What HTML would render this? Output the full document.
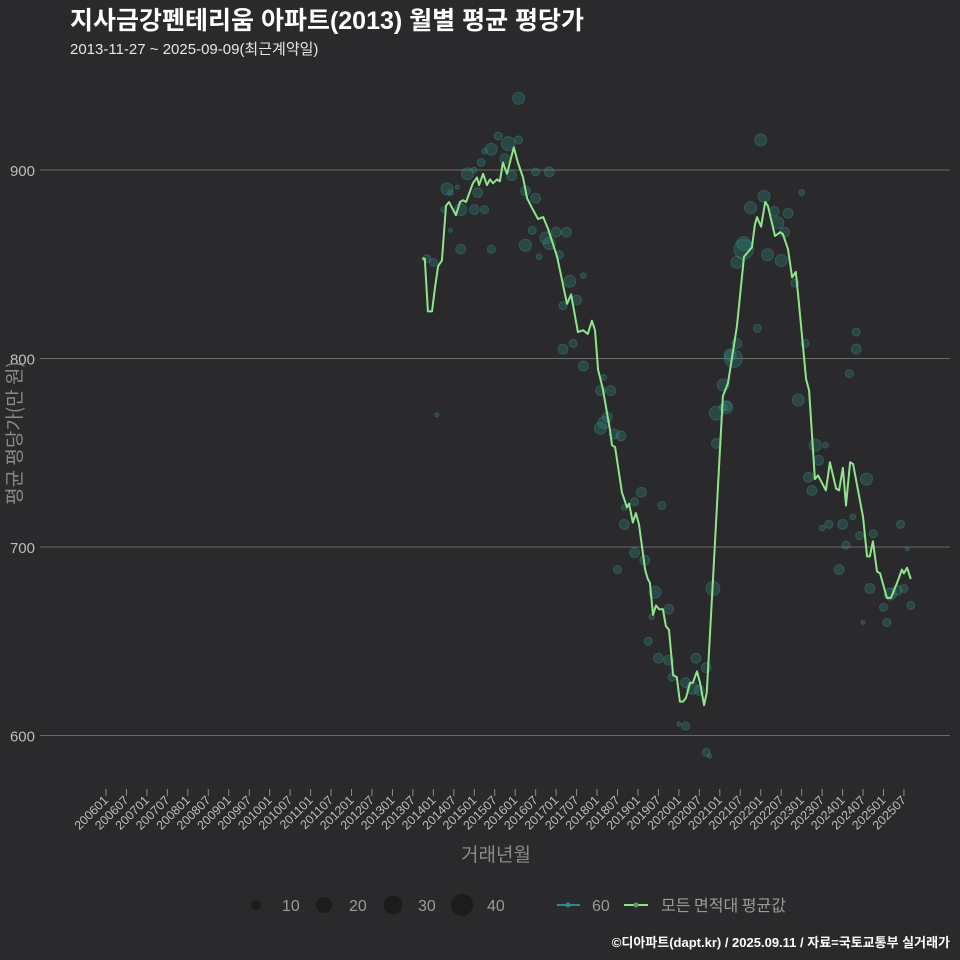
<!DOCTYPE html>
<html><head><meta charset="utf-8">
<style>
html,body{margin:0;padding:0;background:#2a2a2c;}
svg{display:block;font-family:"Liberation Sans","Noto Sans CJK KR",sans-serif;}
.kr{font-family:"Noto Sans CJK KR","NanumGothic",sans-serif;}
</style></head>
<body>
<svg id="chart" width="960" height="960" viewBox="0 0 960 960" xmlns="http://www.w3.org/2000/svg">
<rect width="960" height="960" fill="#2a2a2c"/>
<text x="70" y="29" fill="#ffffff" font-size="25" font-weight="bold">지사금강펜테리움 아파트(2013) 월별 평균 평당가</text>
<text x="70" y="54" fill="#e6e6e6" font-size="15">2013-11-27 ~ 2025-09-09(최근계약일)</text>
<g id="grid"></g>
<g id="yticks"></g>
<g id="xticks"></g>
<g id="bubbles"></g>
<g id="line"></g>
<text class="kr" transform="translate(21,433) rotate(-90)" text-anchor="middle" fill="#8a8a8a" font-size="19">평균 평당가(만 원)</text>
<text class="kr" x="496" y="861" text-anchor="middle" fill="#8a8a8a" font-size="19">거래년월</text>
<g>
  <circle cx="256" cy="905" r="5" fill="#1c1c1c"/>
  <text x="282" y="911" fill="#9a9a9a" font-size="16">10</text>
  <circle cx="324" cy="905" r="8" fill="#1c1c1c"/>
  <text x="349" y="911" fill="#9a9a9a" font-size="16">20</text>
  <circle cx="393" cy="905" r="9.5" fill="#1c1c1c"/>
  <text x="418" y="911" fill="#9a9a9a" font-size="16">30</text>
  <circle cx="462" cy="905" r="11" fill="#1c1c1c"/>
  <text x="487" y="911" fill="#9a9a9a" font-size="16">40</text>
  <line x1="557" y1="905" x2="580" y2="905" stroke="#2a8c8a" stroke-width="2"/>
  <circle cx="568" cy="905" r="2.5" fill="#2a8c8a"/>
  <text x="592" y="911" fill="#9a9a9a" font-size="16">60</text>
  <line x1="624" y1="905" x2="648" y2="905" stroke="#8ee58a" stroke-width="2"/>
  <circle cx="636" cy="905" r="2.5" fill="#5a9a6a"/>
  <text class="kr" x="661" y="911" fill="#9a9a9a" font-size="16">모든 면적대 평균값</text>
</g>
<text x="950" y="947" text-anchor="end" fill="#ffffff" font-size="13" font-weight="bold">©디아파트(dapt.kr) / 2025.09.11 / 자료=국토교통부 실거래가</text>
</svg>
<script>
// month index counted from 2006-01 (=0)
const yTicks = [600, 700, 800, 900];
const xTickLabels = [];
for (let yr = 2006; yr <= 2025; yr++) { xTickLabels.push(yr + "01"); xTickLabels.push(yr + "07"); }
const lineMonths = [92.7,93.5,94.4,95.6,96.5,97.4,98.5,99.7,100.6,102.6,103.8,104.7,105.6,107.6,108.8,109.4,110.6,111.7,112.6,113.5,114.7,115.5,116.4,117.6,119.6,120.8,122.3,123.5,124.9,126.7,128.2,129.6,132.3,135.2,136.4,138.4,139.9,141.3,142.5,143.4,144.3,145.7,147.8,148.4,149.3,151.3,152.8,153.4,154.5,155.4,156.3,158.1,158.9,159.5,160.4,161.3,162.2,163.3,164.2,165.1,166.3,167.4,168.3,169.2,170.1,171.3,172.1,173.3,174.2,175.4,176.2,178.0,180.1,180.9,182.4,185.0,187.1,189.4,190.3,190.9,192.1,193.3,194.1,196.2,197.7,198.5,200.0,201.2,202.3,202.9,205.3,206.2,207.9,208.8,211.1,212.3,214.1,215.0,216.1,217.0,218.2,219.1,222.0,223.2,224.0,224.9,226.1,227.0,229.0,230.2,232.0,233.4,234.0,234.9,236.0];
const lineValues = [853,853,825,825,838,849,852,881,883,876,883,884,883,893,896,892,898,892,895,893,895,894,904,898,912,904,896,885,880,874,875,869,854,829,834,814,815,813,820,815,794,784,762,754,753,729,721,723,713,718,712,688,683,681,664,669,667,667,658,656,632,631,618,618,620,628,628,634,628,616,623,683,753,780,787,817,854,859,871,875,870,883,881,865,867,866,858,843,846,835,789,783,736,738,730,745,731,730,742,722,745,744,716,695,695,703,687,686,673,673,681,688,686,689,683];
const bubbleMonths = [115,121,118,111,113,110,106,108,100,101,103,109,119,117,126,130,123,126,104,108,111,99,101,125,129,132,135,130,123,104,113,127,133,94,96,136,140,134,138,134,140,145,146,147,146,97,137,121,192,148,145,149,151,157,155,152,163,152,155,158,150,161,165,160,159,162,165,166,170,172,174,173,176,168,170,176,177,178,179,181,179,182,181,193,189,204,196,200,197,199,187,187,185,194,198,202,191,205,220,185,183,184,220,218,203,182,208,211,209,206,207,223,216,212,210,219,221,217,225,233,235,215,224,230,232,228,236,229,222,234];
const bubbleValues = [918,916,914,910,911,904,898,900,890,888,891,888,897,906,899,899,889,885,879,879,879,879,868,868,864,867,867,861,860,858,858,854,855,853,851,841,844,828,831,805,796,783,790,769,766,770,808,938,916,783,763,760,759,729,724,721,722,712,697,693,688,676,667,663,650,641,640,631,628,625,624,641,636,606,605,591,589,678,755,774,771,775,786,886,880,888,878,877,872,867,861,858,851,855,852,840,816,808,814,808,802,800,805,792,778,774,754,754,746,737,730,736,712,712,710,716,706,701,707,712,699,688,678,675,677,668,669,660,660,678];
const bubbleCounts = [8,8,24,4,18,8,18,4,18,4,2,12,12,12,8,12,12,12,18,12,8,4,2,8,18,12,12,18,18,12,8,4,8,8,8,18,4,8,12,12,12,12,4,12,18,2,8,18,18,12,18,12,12,12,8,4,8,12,12,12,8,18,12,4,8,12,12,8,12,18,12,12,12,2,8,8,2,24,12,8,24,12,18,18,18,4,12,12,18,12,24,48,18,18,18,8,8,8,8,12,18,40,12,8,18,18,18,4,12,12,12,18,12,8,4,4,8,8,8,8,2,12,12,18,12,8,8,8,2,8];

const NS = "http://www.w3.org/2000/svg";
const xs = m => 106 + m * 3.41;
const ys = v => 170 + (900 - v) * 1.885;
const rs = n => 1.42 * Math.sqrt(n);
function mk(tag, attrs, parent) {
  const el = document.createElementNS(NS, tag);
  for (const k in attrs) el.setAttribute(k, attrs[k]);
  parent.appendChild(el);
  return el;
}
const grid = document.getElementById('grid');
const yt = document.getElementById('yticks');
yTicks.forEach(v => {
  const l = mk('line', {x1: 40, x2: 950, y1: ys(v), y2: ys(v), stroke: '#6a6a6a', 'stroke-width': 1}, grid);
  
  
  const t = mk('text', {x: 35, y: ys(v) + 6, 'text-anchor': 'end', fill: '#bdbdbd', 'font-size': 15}, yt);
  t.textContent = v;
  
  
});
const xt = document.getElementById('xticks');
xTickLabels.forEach((lab, i) => {
  const x = xs(i * 6);
  const tk = mk('line', {x1: x, x2: x, y1: 789, y2: 796, stroke: '#8a8a8a', 'stroke-width': 1}, xt);
  
  
  const t = mk('text', {transform: 'translate(' + (x + 3) + ',801) rotate(-45)', 'text-anchor': 'end', fill: '#bdbdbd', 'font-size': 12.5}, xt);
  t.textContent = lab;
  
  
});
const bg = document.getElementById('bubbles');
bubbleMonths.forEach((m, i) => {
  const c = mk('circle', {cx: xs(m), cy: ys(bubbleValues[i]), r: rs(bubbleCounts[i]), fill: 'rgba(45,140,130,0.3)', stroke: 'rgba(70,165,155,0.3)', 'stroke-width': 1}, bg);
  
  
});
const lg = document.getElementById('line');
const d = lineMonths.map((m, i) => (i ? 'L' : 'M') + xs(m).toFixed(1) + ',' + ys(lineValues[i]).toFixed(1)).join(' ');
const p = mk('path', {d: d, fill: 'none', stroke: '#8ee58a', 'stroke-width': 2, 'stroke-linejoin': 'round'}, lg);


</script>
</body></html>
